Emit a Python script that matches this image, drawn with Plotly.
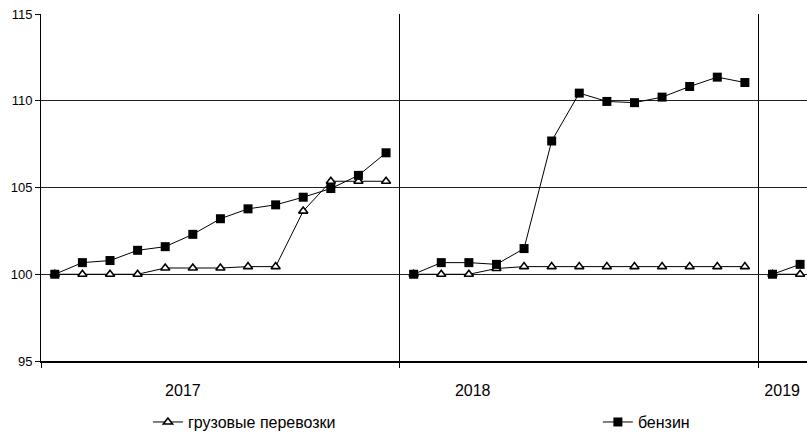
import plotly.graph_objects as go

years = ["2017", "2018", "2019"]
months_per_year = 13  # base point + 12 months per year block

freight_2017 = [100, 100, 100, 100, 100.36, 100.36, 100.36, 100.44, 100.44, 103.64, 105.36, 105.36, 105.36]
freight_2018 = [100, 100, 100, 100.33, 100.44, 100.44, 100.44, 100.44, 100.44, 100.44, 100.44, 100.44, 100.44]
freight_2019 = [100, 100]

petrol_2017 = [100, 100.67, 100.79, 101.38, 101.59, 102.3, 103.2, 103.77, 104.0, 104.44, 104.94, 105.7, 107.0]
petrol_2018 = [100, 100.67, 100.67, 100.57, 101.48, 107.68, 110.44, 109.96, 109.89, 110.21, 110.82, 111.36, 111.05]
petrol_2019 = [100, 100.57]

series_names = ["грузовые перевозки", "бензин"]


def build(blocks):
    xs, ys = [], []
    for k, block in enumerate(blocks):
        if k:
            xs.append(None)
            ys.append(None)
        for i, v in enumerate(block):
            xs.append(k * months_per_year + i)
            ys.append(v)
    return xs, ys


fx, fy = build([freight_2017, freight_2018, freight_2019])
px_, py_ = build([petrol_2017, petrol_2018, petrol_2019])

fig = go.Figure()
fig.add_trace(go.Scatter(
    x=fx, y=fy, name=series_names[0], mode="lines+markers",
    line=dict(color="black", width=1),
    marker=dict(symbol="triangle-up", size=8, color="white",
                line=dict(color="black", width=1.6)),
    connectgaps=False, legend="legend",
))
fig.add_trace(go.Scatter(
    x=px_, y=py_, name=series_names[1], mode="lines+markers",
    line=dict(color="black", width=1),
    marker=dict(symbol="square", size=9, color="black",
                line=dict(color="black", width=0)),
    connectgaps=False, legend="legend2",
))

n = len(years)
sep_vals = [k * months_per_year - 0.5 for k in range(n)]
label_vals = [4.64, 15.14, 26.35]

legend_common = dict(orientation="h", xanchor="left", y=-0.176, yanchor="middle",
                     font=dict(size=16), bgcolor="rgba(0,0,0,0)")

fig.update_layout(
    width=807, height=433,
    margin=dict(l=41, r=0, t=14, b=72, autoexpand=False),
    paper_bgcolor="white", plot_bgcolor="white",
    font=dict(family="Liberation Sans, Arial, sans-serif", color="black", size=13),
    showlegend=True,
    legend=dict(x=0.1396, **legend_common),
    legend2=dict(x=0.727, **legend_common),
    xaxis=dict(
        range=[-0.5, 27.25], showgrid=False, zeroline=False, automargin=False,
        tickmode="array", tickvals=label_vals, ticktext=years, ticks="",
        tickfont=dict(size=16), ticklabelstandoff=14,
        showline=True, linecolor="black", linewidth=2,
        minor=dict(tickmode="array", tickvals=sep_vals, ticks="outside", ticklen=5,
                   tickcolor="black", tickwidth=1, showgrid=True,
                   gridcolor="black", gridwidth=1),
    ),
    yaxis=dict(
        range=[95, 115], tickmode="array", tickvals=[95, 100, 105, 110, 115],
        showgrid=False, zeroline=False, ticks="outside", ticklen=5, automargin=False,
        tickcolor="black", tickwidth=1,
        showline=True, linecolor="black", linewidth=1,
        minor=dict(tickmode="array", tickvals=[100, 105, 110], ticks="",
                   showgrid=True, gridcolor="#222222", gridwidth=1),
    ),
)

fig.write_html("out.html", config={"displayModeBar": False},
               post_script="document.body.style.margin='0';document.body.style.overflow='hidden';")
